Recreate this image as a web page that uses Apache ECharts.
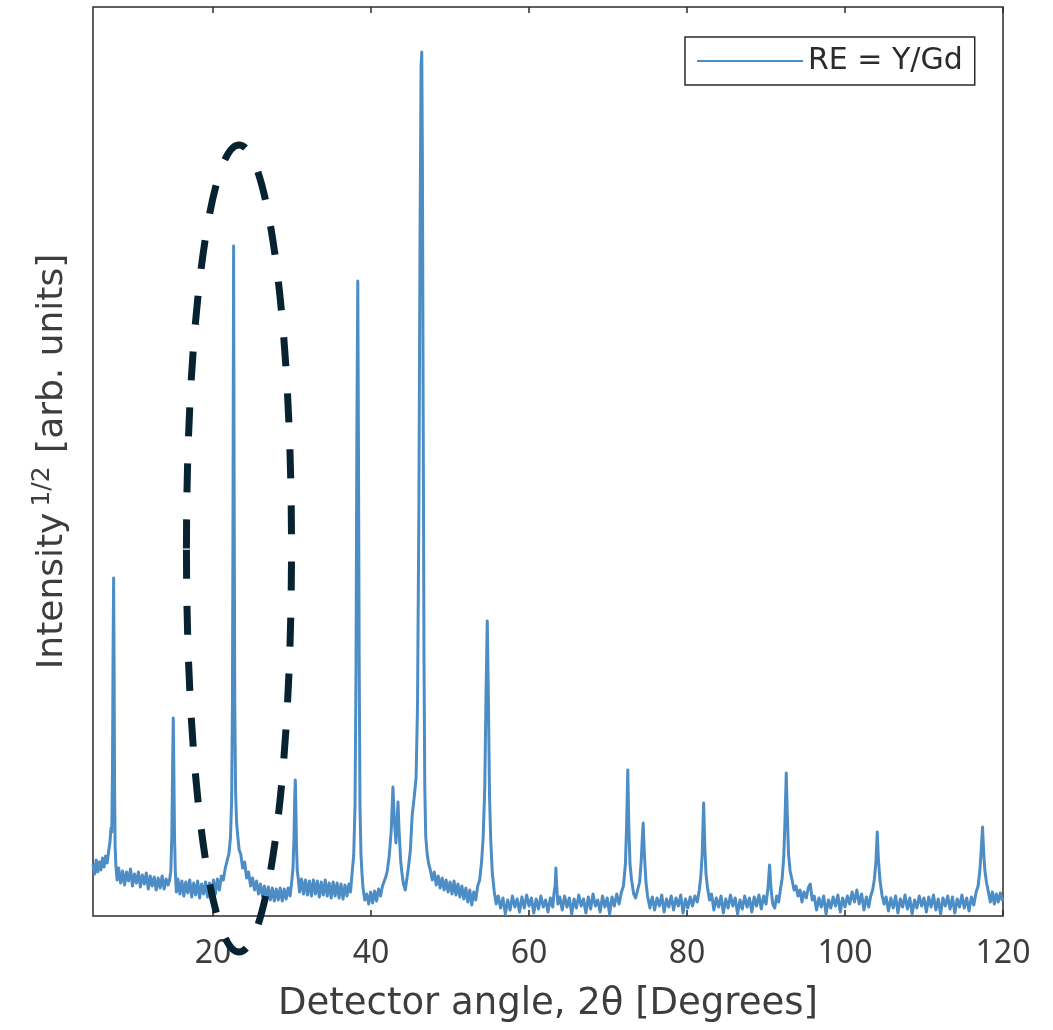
<!DOCTYPE html>
<html><head><meta charset="utf-8">
<script src="https://cdn.jsdelivr.net/npm/echarts@6/dist/echarts.min.js"></script>
<style>html,body{margin:0;padding:0;background:#fff}#c{width:1053px;height:1030px}</style>
</head><body><div id="c"></div>
<script>
// Tick labels of the 2θ axis
const angleTicks = [20, 40, 60, 80, 100, 120];
const seriesName = 'RE = Y/Gd';

// Scan data: [2θ (deg), sqrt intensity (arb. units)]
const scanA = [[4.8,52],[5.0,42],[5.2,56],[5.4,44],[5.6,54],[5.8,46],[6.0,58],[6.2,49],[6.4,60],[6.6,53],[6.8,66],[6.95,74],[7.08,88],[7.18,84],[7.27,150],[7.34,260],[7.41,338],[7.47,250],[7.53,130],[7.6,70],[7.7,50],
[7.85,36],[8.05,48],[8.3,33],[8.55,45],[8.8,31],[9.05,44],[9.3,35],[9.55,47],[9.8,30],[10.05,42],[10.3,33],[10.55,44],[10.8,29],[11.05,41],[11.3,32],[11.55,43],[11.8,27],[12.05,40],[12.3,30],[12.55,39],[12.8,26],[13.05,38],[13.3,28],[13.55,40],[13.8,27],[14.05,37],[14.3,31],[14.5,36],[14.65,45],[14.78,80],[14.88,150],[14.96,198],[15.03,150],[15.12,80],[15.22,45]];

const scanB = [[15.35,24],[15.55,37],[15.8,22],[16.05,35],[16.3,20],[16.55,34],[16.8,23],[17.05,36],[17.3,19],[17.55,33],[17.8,21],[18.05,35],[18.3,18],[18.55,32],[18.8,22],[19.05,34],[19.3,19],[19.55,33],[19.8,21],[20.05,36],[20.3,22],[20.55,37],[20.8,26],[21.05,40],[21.3,36],[21.55,48],[21.8,56],[22.0,62],[22.2,78],[22.35,115],[22.45,210],[22.53,420],[22.6,670],[22.67,420],[22.75,210],[22.85,125],[22.97,95],[23.1,82],[23.3,66],[23.5,62],[23.75,48],[24.0,54],[24.25,38],[24.5,44],[24.75,30],[25.0,38],[25.25,26],[25.5,35],[25.75,22],[26.0,32],[26.25,20],[26.5,30],[26.75,17],[27.0,29],[27.25,16],[27.5,28],[27.75,15],[28.0,27],[28.25,16],[28.5,28],[28.75,15],[29.0,27],[29.25,17],[29.5,28],[29.75,20],[29.95,34],[30.12,48],[30.25,80],[30.34,120],[30.41,136],[30.48,110],[30.56,70],[30.66,45],[30.78,38]];

const scanC = [[30.95,24],[31.2,37],[31.45,22],[31.7,36],[31.95,21],[32.2,35],[32.45,20],[32.7,36],[32.95,22],[33.2,35],[33.45,19],[33.7,34],[33.95,21],[34.2,36],[34.45,20],[34.7,33],[34.95,18],[35.2,34],[35.45,20],[35.7,33],[35.95,18],[36.2,32],[36.45,17],[36.7,31],[36.95,20],[37.2,32],[37.4,24],[37.6,43],[37.8,60],[37.97,110],[38.1,250],[38.2,480],[38.32,635],[38.4,480],[38.5,250],[38.6,110],[38.72,62],[38.85,43],[38.98,28],[39.2,16],[39.45,22],[39.7,12],[39.95,24],[40.2,13],[40.45,25],[40.7,15],[40.95,27],[41.2,20],[41.45,30],[41.7,28],[41.9,40],[42.05,45],[42.3,60],[42.55,85],[42.77,129],[42.95,95],[43.15,73],[43.3,95],[43.41,114],[43.55,85],[43.75,55],[43.91,43],[44.1,32],[44.33,26],[44.55,38],[44.75,50],[44.98,66],[45.2,100],[45.45,118],[45.7,138],[45.88,210],[46.05,400],[46.2,680],[46.33,850],[46.42,864],[46.5,760],[46.6,500],[46.7,260],[46.8,130],[46.92,80],[47.1,62],[47.3,52],[47.5,46]];

const scanD = [[47.75,36],[48.0,44],[48.25,31],[48.5,40],[48.75,28],[49.0,38],[49.25,26],[49.5,36],[49.75,24],[50.0,34],[50.25,22],[50.5,35],[50.75,21],[51.0,32],[51.25,19],[51.5,30],[51.75,17],[52.0,28],[52.25,14],[52.5,26],[52.75,11],[53.0,24],[53.25,16],[53.5,30],[53.75,36],[54.0,55],[54.2,80],[54.4,130],[54.55,220],[54.71,295],[54.85,220],[55.0,120],[55.15,76],[55.35,43],[55.6,24],[55.85,12]];

const scanE = [[56.1,20],[56.4,8],[56.7,18],[57.0,2],[57.3,16],[57.6,6],[57.9,20],[58.2,9],[58.5,17],[58.8,4],[59.1,19],[59.4,8],[59.7,21],[60.0,10],[60.3,18],[60.6,3],[60.9,17],[61.2,7],[61.5,20],[61.8,9],[62.1,16],[62.4,4],[62.7,18],[63.0,9],[63.15,22],[63.3,30],[63.4,48],[63.5,30],[63.65,12],[63.9,19],[64.2,6],[64.5,20],[64.8,9],[65.1,18],[65.4,2],[65.7,17],[66.0,8],[66.3,21],[66.6,10],[66.9,17],[67.2,3],[67.5,19],[67.8,7],[68.1,22],[68.4,10],[68.7,16],[69.0,4],[69.3,20],[69.6,9],[69.9,18],[70.2,2],[70.5,19],[70.8,10],[71.1,22],[71.4,12],[71.7,24],[71.95,30],[72.2,52],[72.35,90],[72.5,146],[72.63,90],[72.78,52],[72.98,36],[73.25,22],[73.5,18],[73.75,26],[74.0,34],[74.2,55],[74.35,80],[74.45,93],[74.6,62],[74.8,34],[75.0,20],[75.3,8],[75.6,19],[75.9,6],[76.2,18],[76.5,10],[76.8,21],[77.1,4],[77.4,17],[77.7,9],[78.0,20],[78.3,6],[78.6,18],[78.9,10],[79.2,21],[79.5,3],[79.8,17],[80.1,8],[80.4,19],[80.7,10],[81.0,20],[81.3,14],[81.55,26],[81.75,40],[81.92,62],[82.1,113],[82.25,70],[82.4,42],[82.6,28],[82.85,16],[83.1,22],[83.4,6],[83.7,18],[84.0,9],[84.3,20],[84.6,3],[84.9,17],[85.2,8],[85.5,21],[85.8,10],[86.1,18],[86.4,2],[86.7,16],[87.0,7],[87.3,20],[87.6,9],[87.9,18],[88.2,4],[88.5,19],[88.8,10],[89.1,21],[89.4,7],[89.7,20],[90.0,12]];

const scanF = [[90.25,28],[90.45,51],[90.65,26],[90.85,12],[91.1,8],[91.35,20],[91.6,14],[91.85,28],[92.05,38],[92.25,60],[92.4,95],[92.56,143],[92.7,100],[92.85,62],[93.05,45],[93.3,36],[93.55,26],[93.8,30],[94.05,20],[94.3,26],[94.55,14],[94.8,24],[95.1,18],[95.35,28],[95.6,32],[95.85,16],[96.1,20],[96.4,6],[96.7,18],[97.0,9],[97.3,20],[97.6,2],[97.9,16],[98.2,8],[98.5,19],[98.8,10],[99.1,21],[99.4,4],[99.7,18],[100.0,9],[100.3,20],[100.6,12],[100.9,24],[101.2,14],[101.5,26],[101.8,12],[102.1,22],[102.4,6],[102.7,19],[103.0,9],[103.25,20],[103.5,26],[103.7,36],[103.9,52],[104.08,84],[104.22,58],[104.42,36],[104.7,20],[104.95,12],[105.2,19],[105.5,5],[105.8,18],[106.1,8],[106.4,20],[106.7,3],[107.0,17],[107.3,9],[107.6,21],[107.9,7],[108.2,18],[108.5,2],[108.8,16],[109.1,8],[109.4,20],[109.7,10],[110.0,18],[110.3,4],[110.6,19],[110.9,9],[111.2,21],[111.5,6],[111.8,17],[112.1,2],[112.4,18],[112.7,10],[113.0,20],[113.3,7],[113.6,19],[113.9,3],[114.2,17],[114.5,9],[114.8,21],[115.1,8],[115.4,18],[115.7,5],[116.0,19],[116.3,11],[116.6,24],[116.85,30],[117.05,44],[117.2,60],[117.41,89],[117.55,64],[117.7,46],[117.9,34],[118.15,24],[118.4,14],[118.65,24],[118.9,12],[119.15,22],[119.4,14],[119.65,23],[119.9,16],[120.0,18]];

// Dashed ellipse annotation extent in data coordinates
const ringAngle = [16.63, 29.93];
const ringIntensity = [-36, 771];

const scan = [].concat(scanA, scanB, scanC, scanD, scanE, scanF);

const chart = echarts.init(document.getElementById('c'), null, {renderer: 'canvas'});
const axisColor = '#2b2b2b';
const textColor = '#3d3d3d';
const lineColor = '#4d8dc6';
chart.setOption({
  animation: false,
  backgroundColor: '#fff',
  grid: {left: 93, right: 50, top: 7, bottom: 114, show: true, borderColor: axisColor, borderWidth: 1.5, backgroundColor: 'transparent'},
  legend: {
    left: 685, top: 37, padding: [9, 12, 9, 12],
    itemWidth: 106, itemHeight: 2, icon: 'rect',
    borderColor: axisColor, borderWidth: 1.5, backgroundColor: '#fff',
    textStyle: {fontFamily: 'DejaVu Sans', fontSize: 30, color: '#2b2b2b', padding: [2, 0, 0, 0]},
    itemStyle: {color: lineColor},
    data: [seriesName]
  },
  xAxis: [{
    type: 'value', position: 'bottom', min: 4.8, max: 120,
    axisLine: {show: false},
    splitLine: {show: false},
    axisTick: {inside: true, length: 6, lineStyle: {color: axisColor, width: 1.5}, customValues: angleTicks},
    axisLabel: {customValues: angleTicks, fontFamily: 'Noto Sans', fontSize: 32, color: textColor, margin: 22},
    name: 'Detector angle, 2θ [Degrees]', nameLocation: 'middle', nameGap: 70,
    nameTextStyle: {fontFamily: 'DejaVu Sans', fontSize: 37, color: textColor}
  }, {
    type: 'value', position: 'top', min: 4.8, max: 120,
    axisLine: {show: false}, splitLine: {show: false},
    axisTick: {inside: true, length: 6, lineStyle: {color: axisColor, width: 1.5}, customValues: angleTicks},
    axisLabel: {show: false}
  }],
  yAxis: [{
    type: 'value', min: 0, max: 909,
    axisLine: {show: false}, axisTick: {show: false}, axisLabel: {show: false}, splitLine: {show: false},
    name: '{a|Intensity}{s|1/2}{a| [arb. units]}', nameLocation: 'middle', nameGap: 18,
    nameTextStyle: {
      color: textColor,
      rich: {
        a: {fontFamily: 'DejaVu Sans', fontSize: 36, color: textColor},
        s: {fontFamily: 'DejaVu Sans', fontSize: 25, color: textColor, padding: [0, 2, 20, 6]}
      }
    }
  }],
  series: [{
    name: seriesName, type: 'line', data: scan, symbol: 'none', showSymbol: false,
    xAxisIndex: 0, yAxisIndex: 0,
    lineStyle: {color: lineColor, width: 3, join: 'round'}, itemStyle: {color: lineColor},
    sampling: null, z: 2
  }]
});

const p1 = chart.convertToPixel({xAxisIndex: 0, yAxisIndex: 0}, [ringAngle[0], ringIntensity[0]]);
const p2 = chart.convertToPixel({xAxisIndex: 0, yAxisIndex: 0}, [ringAngle[1], ringIntensity[1]]);
chart.setOption({
  graphic: [{
    type: 'ellipse', z: 100,
    shape: {cx: (p1[0] + p2[0]) / 2, cy: (p1[1] + p2[1]) / 2, rx: Math.abs(p2[0] - p1[0]) / 2, ry: Math.abs(p2[1] - p1[1]) / 2},
    style: {fill: 'none', stroke: '#072332', lineWidth: 7, lineDash: [29, 27]}
  }]
});
</script>
</body></html>
